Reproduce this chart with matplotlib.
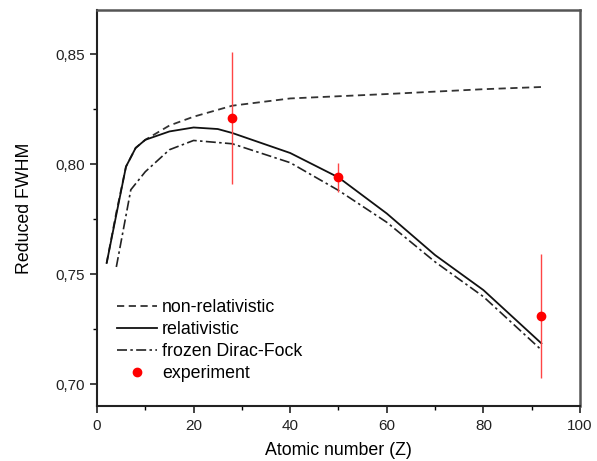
import matplotlib
matplotlib.use("Agg")
import matplotlib.pyplot as plt
from matplotlib.lines import Line2D
from matplotlib.ticker import MultipleLocator, FuncFormatter

plt.rcParams['font.family'] = ['Liberation Sans', 'DejaVu Sans']

# non-relativistic (dashed)
z_nonrel = [2, 4, 6, 8, 10, 15, 20, 28, 40, 60, 80, 92]
fwhm_nonrel = [0.755, 0.778, 0.7988, 0.8073, 0.811, 0.8175, 0.8215, 0.8265, 0.8298, 0.8318, 0.834, 0.835]

# relativistic (solid)
z_rel = [2, 4, 6, 8, 10, 15, 20, 25, 28, 40, 50, 60, 70, 80, 92]
fwhm_rel = [0.755, 0.777, 0.7988, 0.8073, 0.811, 0.8148, 0.8166, 0.8159, 0.8141, 0.805, 0.7939, 0.7775, 0.7586, 0.7427, 0.7185]

# frozen Dirac-Fock (dash-dot)
z_dfs = [4, 7, 10, 15, 20, 28, 40, 50, 60, 70, 80, 92]
fwhm_dfs = [0.7532, 0.7883, 0.7965, 0.8065, 0.8107, 0.8092, 0.8006, 0.788, 0.7735, 0.7555, 0.7397, 0.7155]

# experiment
z_exp = [28, 50, 92]
fwhm_exp = [0.8209, 0.7939, 0.7309]
err_exp = [0.030, 0.0065, 0.028]

fig = plt.figure(figsize=(5.97, 4.61), dpi=100)
ax = fig.add_axes([0.1625, 0.1193, 0.809, 0.859])

l1, = ax.plot(z_nonrel, fwhm_nonrel, color='#333333', ls=(0, (4, 2.5)), lw=1.3)
l2, = ax.plot(z_rel, fwhm_rel, color='#111111', ls='-', lw=1.3)
l3, = ax.plot(z_dfs, fwhm_dfs, color='#222222', ls=(0, (6, 2, 1.5, 2)), lw=1.2)
ax.errorbar(z_exp, fwhm_exp, yerr=err_exp, fmt='o', color='red', ecolor='#ff4545',
            elinewidth=1.0, markersize=6, capsize=0)
l4 = Line2D([], [], ls='none', marker='o', color='red', markersize=6)

ax.set_xlim(0, 100)
ax.set_ylim(0.690, 0.870)
ax.xaxis.set_major_locator(MultipleLocator(20))
ax.xaxis.set_minor_locator(MultipleLocator(10))
ax.yaxis.set_major_locator(MultipleLocator(0.05))
ax.yaxis.set_minor_locator(MultipleLocator(0.025))
ax.yaxis.set_major_formatter(FuncFormatter(lambda v, p: f"{v:.2f}".replace('.', ',')))
ax.tick_params(which='major', direction='out', length=5, width=1.2, labelsize=11, pad=4,
               top=False, right=False, colors='#222222')
ax.tick_params(which='minor', direction='out', length=3, width=1.0, top=False, right=False)

for s in ['left', 'bottom']:
    ax.spines[s].set_linewidth(1.5)
    ax.spines[s].set_color('#222222')
for s in ['top', 'right']:
    ax.spines[s].set_linewidth(1.8)
    ax.spines[s].set_color('#555555')

ax.set_xlabel('Atomic number (Z)', fontsize=12.8, labelpad=7)
ax.set_ylabel('Reduced FWHM', fontsize=12.8, labelpad=16)

ax.legend([l1, l2, l3, l4], ['non-relativistic', 'relativistic', 'frozen Dirac-Fock', 'experiment'],
          loc='lower left', bbox_to_anchor=(0.041, 0.06), frameon=False, borderpad=0,
          borderaxespad=0, fontsize=12.8, handlelength=2.25, handletextpad=0.3, labelspacing=0.29)

fig.savefig('out.png', dpi=100)
